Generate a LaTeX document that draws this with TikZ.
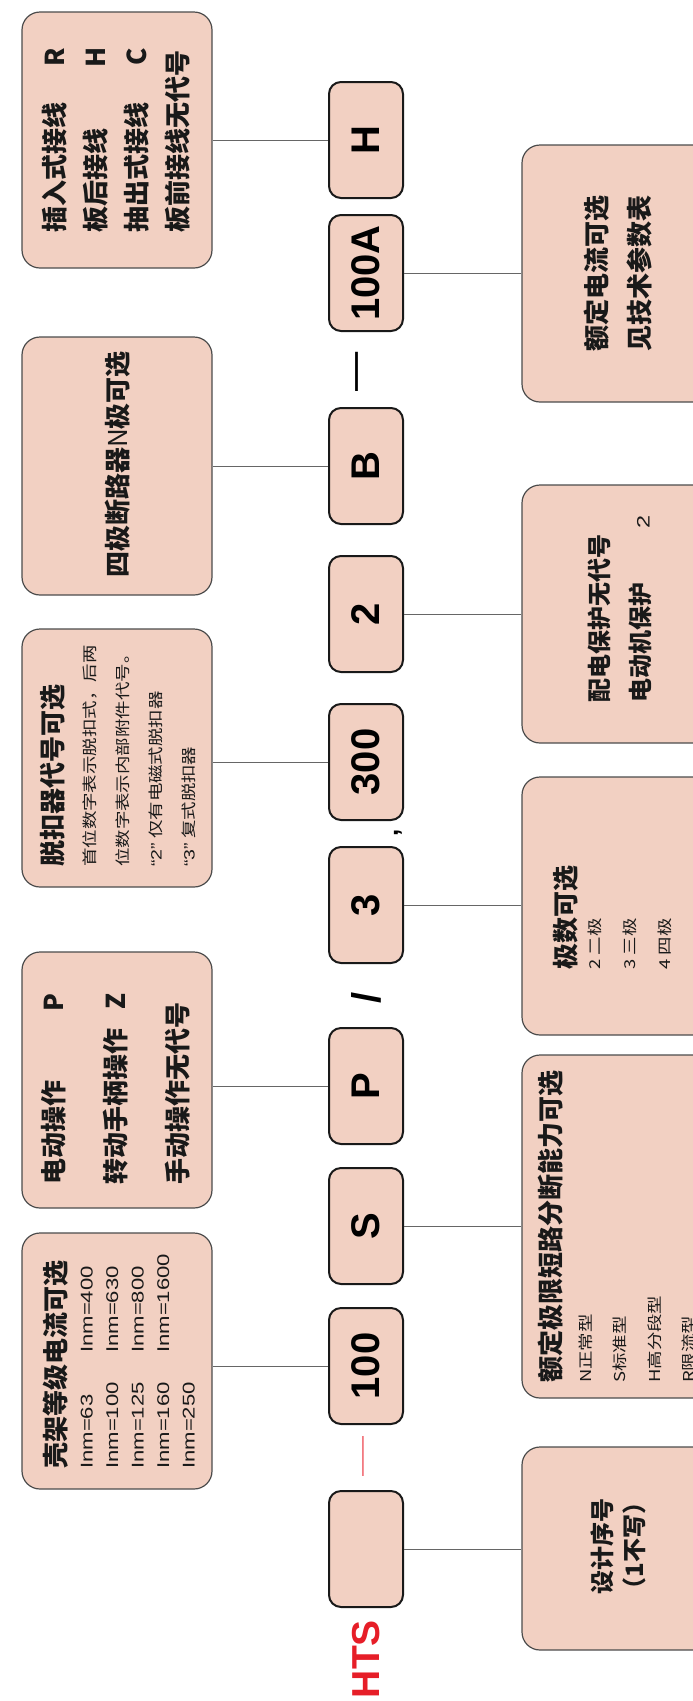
\documentclass[tikz,border=0pt]{standalone}
\usepackage{fontspec}
\setmainfont{Liberation Sans}
\newfontfamily\cjk{Noto Sans CJK SC}
\newfontfamily\cjkthin[FakeStretch=1.23]{Noto Sans CJK SC}
\newfontfamily\latthin[FakeStretch=1.3]{Liberation Sans}
\newfontfamily\latdash[FakeStretch=2]{Liberation Sans}
\newfontfamily\latdashb[FakeStretch=1.4]{Liberation Sans}

\definecolor{boxfill}{HTML}{F2D0C2}
\definecolor{brandred}{HTML}{E61E28}
\definecolor{dashred}{HTML}{EE4E58}

\tikzset{
  code box/.style={rectangle, rotate=90, draw=black!90, fill=boxfill, line width=2pt, rounded corners=12pt, minimum width=116pt, minimum height=74pt, inner sep=0pt, font=\bfseries\fontsize{40}{44}\selectfont},
  note box/.style={rectangle, rotate=90, draw=black!70, fill=boxfill, line width=1.2pt, rounded corners=18pt, minimum height=190pt, inner sep=0pt},
  note text/.style={rotate=90, anchor=west, align=left, inner sep=0pt, text=black!90},
  note head/.style={rotate=90, align=center, inner sep=0pt, text=black!90},
  note link/.style={draw=black!60, line width=1pt},
  sep mark/.style={rotate=90, inner sep=0pt},
}
\newcommand{\headfont}{\cjk\bfseries\fontsize{26}{26}\selectfont}

\begin{document}
\begin{tikzpicture}[x=1pt, y=-1pt]
  \path[use as bounding box, clip] (0,0) rectangle (693,1701);

  \node (b1) [note box, minimum width=256pt] at (117,1361) {};
  \node (b2) [note box, minimum width=256pt] at (117,1080) {};
  \node (b3) [note box, minimum width=258pt] at (117,758) {};
  \node (b4) [note box, minimum width=258pt] at (117,466) {};
  \node (b5) [note box, minimum width=256pt] at (117,140) {};

  \node (r1) [note box, minimum width=203pt] at (617,1548.5) {};
  \node (r2) [note box, minimum width=343pt] at (617,1226.5) {};
  \node (r3) [note box, minimum width=258pt] at (617,906) {};
  \node (r4) [note box, minimum width=258pt] at (617,614) {};
  \node (r5) [note box, minimum width=257pt] at (617,273.5) {};

  \node (c0) [code box] at (366,1549) {};
  \node (c1) [code box] at (366,1366) {100};
  \node (c2) [code box] at (366,1226) {S};
  \node (c3) [code box] at (366,1086) {P};
  \node (c4) [code box] at (366,905) {3};
  \node (c5) [code box] at (366,762) {300};
  \node (c6) [code box] at (366,614) {2};
  \node (c7) [code box] at (366,466) {B};
  \node (c8) [code box] at (366,273) {100A};
  \node (c9) [code box] at (366,140) {H};

  \node (brand) [sep mark, text=brandred, font=\bfseries\fontsize{39}{42}\selectfont] at (366,1659) {HTS};
  \node (dash1) [sep mark, text=dashred, font=\latdash\fontsize{20}{24}\selectfont] at (366,1456) {—};
  \node (slash) [sep mark, font=\bfseries\fontsize{40}{44}\selectfont] at (366,998) {/};
  \node (comma) [sep mark, font=\bfseries\fontsize{26}{28}\selectfont] at (398,833) {,};
  \node (dash2) [sep mark, font=\bfseries\latdashb\fontsize{28}{30}\selectfont] at (360,372) {—};

  \node (b1t) [note text, font=\latthin\fontsize{17}{25.5}\selectfont] at (119,1469) {{\headfont 壳架等级电流可选}\\[1.5pt]
    \makebox[116pt][l]{Inm=63}Inm=400\\
    \makebox[116pt][l]{Inm=100}Inm=630\\
    \makebox[116pt][l]{Inm=125}Inm=800\\
    \makebox[116pt][l]{Inm=160}Inm=1600\\
    Inm=250};
  \node (b2t) [note text, font=\cjk\bfseries\fontsize{26}{62}\selectfont] at (116,1185) {\hbox to 191pt{电动操作\hfill P}\\
    \hbox to 191pt{转动手柄操作\hfill Z}\\
    手动操作无代号};
  \node (b3t) [note text, font=\cjkthin\fontsize{15}{33}\selectfont] at (118,867) {{\headfont 脱扣器代号可选}\\
    首位数字表示脱扣式，后两\\
    位数字表示内部附件代号。\\
    {\latthin “2”}\ 仅有电磁式脱扣器\\
    {\latthin “3”}\ 复式脱扣器};
  \node (b4t) [note text, font=\cjk\bfseries\fontsize{26}{30}\selectfont] at (118,578) {四极断路器{\mdseries N}极可选};
  \node (b5t) [note text, font=\cjk\bfseries\fontsize{26}{41}\selectfont] at (116,233) {\hbox to 185pt{插入式接线\hfill R}\\
    \hbox to 185pt{板后接线\hfill H}\\
    \hbox to 185pt{抽出式接线\hfill C}\\
    板前接线无代号};

  \node (r1t) [note head, font=\cjk\bfseries\fontsize{24}{32}\selectfont] at (618,1546) {设计序号\\（1不写）};
  \node (r2t) [note text, font=\cjkthin\fontsize{15}{34.5}\selectfont] at (617,1383) {{\headfont 额定极限短路分断能力可选}\\[-3.7pt]
    N正常型\\
    S标准型\\
    H高分段型\\
    R限流型};
  \node (r3t) [note text, font=\cjkthin\fontsize{15}{35}\selectfont] at (612,970) {{\headfont 极数可选}\\[-10pt]
    2 二极\\
    3 三极\\
    4 四极};
  \node (r4t) [note text, font=\cjk\bfseries\fontsize{24}{41}\selectfont] at (620,703) {配电保护无代号\\
    \hbox to 187pt{电动机保护\hfill{\latthin\mdseries\fontsize{18}{18}\selectfont 2}}};
  \node (r5t) [note head, font=\cjk\bfseries\fontsize{26}{43}\selectfont] at (618,273.5) {额定电流可选\\见技术参数表};

  \draw[note link] (c1.north) -- (c1.north -| b1.south);
  \draw[note link] (c3.north) -- (c3.north -| b2.south);
  \draw[note link] (c5.north) -- (c5.north -| b3.south);
  \draw[note link] (c7.north) -- (c7.north -| b4.south);
  \draw[note link] (c9.north) -- (c9.north -| b5.south);
  \draw[note link] (c0.south) -- (c0.south -| r1.north);
  \draw[note link] (c2.south) -- (c2.south -| r2.north);
  \draw[note link] (c4.south) -- (c4.south -| r3.north);
  \draw[note link] (c6.south) -- (c6.south -| r4.north);
  \draw[note link] (c8.south) -- (c8.south -| r5.north);
\end{tikzpicture}
\end{document}
